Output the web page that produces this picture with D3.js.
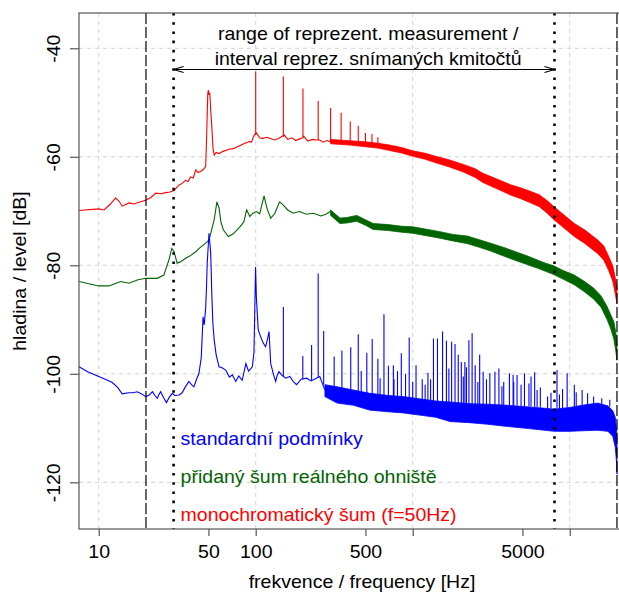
<!DOCTYPE html>
<html>
<head>
<meta charset="utf-8">
<script src="https://cdn.jsdelivr.net/npm/d3@7"></script>
<style>
  body { margin: 0; background: #fff; }
  svg { font-family: "Liberation Sans", Arial, sans-serif; }
</style>
</head>
<body>
<div id="wrapper"></div>
<script>
// spectra: [frequency Hz, level dB] or [frequency, low dB, high dB]
const redLine = [[7.49,-69.9],[10,-69.6],[10.8,-69.8],[11.8,-68.8],[12.8,-67.6],[13.5,-68.2],[14.1,-69.1],[15.6,-68.5],[16.8,-68.7],[18.5,-68.3],[19.9,-68.0],[21.5,-67.5],[23.1,-66.7],[25,-66.8],[26.7,-66.6],[28.5,-66.5],[30.2,-66.2],[32.5,-65.2],[34,-64.9],[35.8,-64.3],[37,-64.6],[38.5,-63.7],[40,-63.9],[41.5,-62.4],[43,-62.9],[44.6,-62.7],[46.5,-62.3],[48,-61.8],[48.7,-56.3],[49.5,-48.5],[49.9,-47.7],[50.5,-48.6],[51,-48.2],[51.7,-51.5],[52.5,-54.4],[53.5,-58.5],[54.4,-59.7],[56,-59.2],[58.4,-59.4],[62,-59.0],[67.6,-58.6],[72,-58.5],[78.3,-58.0],[84,-57.6],[90.8,-57.2],[94,-57.3],[97.7,-56.0],[101,-55.6],[106,-56.5],[110.2,-56.6],[118,-56.4],[123,-56.6],[132,-56.9],[140.6,-56.6],[146,-56.3],[152,-56.0],[160,-56.8],[170,-56.5],[180,-57],[190,-56.7],[197,-56.6],[202,-56.2],[215,-57.1],[230,-56.8],[245,-56.9],[255,-56.9],[270,-57.3],[285,-57],[297,-57.2],[310,-57.1]]
const redBand = [[300,-57.6,-56.8],[400,-57.85,-57.05],[500,-58.15,-57.25],[600,-58.4,-57.5],[700,-58.8,-57.8],[850,-59.3,-58.3],[1000,-59.9,-58.9],[1200,-60.45,-59.35],[1418,-61.15,-59.95],[1700,-61.85,-60.55],[2100,-62.8,-61.4],[2500,-63.8,-62.2],[2800,-64.75,-63.05],[3500,-66.0,-64.2],[4200,-67.05,-65.15],[4850,-67.7,-65.7],[5600,-68.45,-66.35],[6400,-69.2,-67.0],[7200,-70.4,-68.1],[7900,-71.55,-69.15],[9000,-72.9,-70.5],[10700,-74.7,-72.3],[12500,-76.0,-73.5],[15100,-77.85,-75.35],[16500,-79.05,-76.45],[17700,-80.95,-78.35],[18800,-82.9,-80.1],[19500,-85.25,-82.25],[20000,-87.0,-84.0]]
const redSpikes = [[100,-56.0,-44.3],[150,-56.3,-45.2],[200,-56.6,-47.4],[250,-56.9,-49.7],[300,-57.1,-51.0],[350,-57.4,-51.9],[400,-57.6,-53.5],[450,-57.7,-54.3],[500,-57.8,-55.6],[550,-57.9,-55.8],[600,-58.0,-56.4]]

const greenLine = [[7.49,-83.0],[10,-83.8],[11.6,-83.8],[13.8,-83.0],[15.6,-83.3],[17.6,-82.7],[19.9,-82.4],[23.6,-82.4],[26,-81.8],[28,-79],[29.2,-76.9],[30.2,-77.5],[31.6,-79.6],[33.5,-79.3],[35.8,-78.7],[38,-78.3],[41.5,-77.5],[44,-76.8],[48,-75.9],[50.5,-75.3],[54.4,-71.6],[56.6,-68.3],[58.5,-69.5],[60,-72],[62.3,-73.5],[67,-74.7],[72,-74.2],[79.3,-72.9],[84,-72.0],[87.6,-69.8],[91.8,-71.0],[96,-70.4],[101,-70.1],[106,-70.5],[113,-67.2],[118,-69.5],[124.6,-71.3],[132,-70.5],[142,-68.3],[150,-68.9],[160,-69.8],[173,-70.4],[190,-70.1],[210,-70.6],[233,-70.4],[260,-70.9],[280,-70.6],[297,-70.1],[310,-70.5]]
const greenBand = [[300,-70.8,-69.8],[344,-72.3,-71.3],[380,-72.2,-71.2],[440,-71.9,-70.8],[500,-72.6,-71.6],[560,-73.4,-72.3],[700,-73.6,-72.5],[850,-73.9,-72.8],[1000,-74.1,-72.9],[1250,-74.6,-73.4],[1490,-75.0,-73.8],[1800,-75.5,-74.3],[2220,-76.0,-74.6],[2600,-76.6,-75.2],[3100,-77.3,-75.9],[3800,-78.3,-76.7],[4620,-79.2,-77.6],[5400,-79.9,-78.3],[6200,-80.5,-79.0],[7000,-81.1,-79.6],[7900,-81.7,-80.1],[9000,-82.5,-80.9],[10700,-83.6,-81.8],[12300,-84.8,-82.9],[14200,-86.2,-84.2],[15800,-87.7,-85.6],[17300,-90.0,-87.6],[18300,-91.8,-89.2],[19100,-93.6,-90.4],[19700,-96.0,-92.5],[20000,-97.5,-94.5]]

const blueLine = [[7.49,-98.7],[8.5,-99.6],[10,-100.5],[11,-101.0],[12.2,-101.6],[13.2,-102.5],[14.1,-103.7],[15.5,-103.5],[16.5,-103.5],[17.6,-103.3],[18.8,-103.7],[19.9,-104.2],[21,-103.9],[22,-103.3],[22.8,-104.0],[23.6,-104.5],[24.2,-103.8],[24.8,-103.3],[25.8,-104.3],[27,-105.3],[28.2,-104.3],[29.4,-103.6],[30.5,-104.0],[32.5,-103.9],[34,-103.5],[35.5,-102.5],[37.5,-101.4],[39,-102.0],[40.4,-102.4],[42,-101.0],[43.5,-99.9],[45,-97],[46.2,-89.5],[47,-91],[48,-87.9],[48.6,-84],[49.1,-79.6],[50.4,-74.1],[51.7,-77.8],[52.5,-85],[53.3,-90.5],[54.4,-93.8],[56,-96.5],[58.4,-98.7],[61,-98.9],[64.4,-99.3],[68,-100.6],[71,-100.2],[74.7,-101.4],[78,-100.4],[82,-101.2],[86.6,-98.1],[90,-99.5],[95.2,-98.7],[97.5,-96],[99.8,-80.3],[101,-86],[103.8,-91.9],[107,-93],[111,-94.2],[115.6,-95],[118,-94],[121.6,-92.2],[124.6,-98.1],[130,-100.2],[134,-101.4],[137,-100.3],[140.6,-99.6],[146,-100.2],[155,-100.8],[165,-100.5],[174,-101.5],[182,-102],[195,-101],[211,-100.8],[225,-101.3],[240,-100.9],[256,-100.5],[266,-101.8],[276,-103]]
const blueBand = [[276,-104.2,-102],[330,-105.4,-102.4],[420,-105.8,-103],[535,-106.7,-103.6],[700,-107,-104],[870,-107.2,-104.2],[1100,-107.6,-104.6],[1400,-108,-105],[1730,-108.8,-105.2],[2300,-109,-105.5],[3000,-109.3,-105.6],[4000,-109.7,-105.8],[5500,-110.1,-106.1],[8000,-110.6,-106.5],[10000,-110.6,-106.2],[12000,-110.5,-105.8],[15000,-110.4,-105.4],[17500,-110.6,-105.9],[18800,-111.5,-106.8],[19500,-113.5,-108],[19900,-116.5,-110.5],[20000,-118.5,-112]]
const blueSpikes = [[150,-100.6,-87.7],[199.5,-101,-96.7],[227,-101.2,-94.7],[250,-100.7,-81.5],[271,-102,-92.1],[316,-103.5,-96.8],[354,-103.8,-95.7],[403,-104,-95.1],[450,-104.2,-92.7],[470,-104.3,-99.5],[510,-104.4,-96.1],[552,-104.5,-93.6],[600,-104.6,-97.2],[620,-104.6,-100.8],[656,-104.7,-89.0],[700,-104.8,-98.5],[753,-104.9,-98.4],[760,-104.9,-101],[800,-105,-99.5],[846,-105,-96.2],[900,-105,-100],[950,-105.1,-93.3],[1000,-105.1,-101.5],[1050,-105.2,-98.4],[1150,-105.3,-101],[1200,-105.3,-102],[1250,-105.3,-99.8],[1300,-105.3,-101],[1356,-105.4,-93.5],[1438,-105.4,-93.5],[1549,-105.5,-92.2],[1640,-105.5,-93.9],[1700,-105.5,-99],[1770,-105.5,-94.1],[1860,-105.5,-94.5],[1950,-105.5,-96.5],[2040,-105.6,-97.8],[2100,-105.6,-100.5],[2150,-105.6,-97.8],[2200,-105.6,-98.8],[2280,-105.6,-93.8],[2390,-105.6,-92.5],[2500,-105.6,-98.4],[2600,-105.7,-101.5],[2670,-105.7,-96.5],[2810,-105.7,-99.6],[2950,-105.7,-101],[3100,-105.8,-99.9],[3340,-105.8,-99.6],[3540,-105.8,-99],[3700,-105.8,-102.3],[3800,-105.8,-101.5],[4130,-105.9,-99.9],[4360,-105.9,-100.2],[4400,-105.9,-101.5],[4620,-105.9,-100.2],[4900,-106,-102],[5150,-106,-99.9],[5500,-106,-101.8],[5670,-106,-100.5],[5980,-106.1,-99.7],[6200,-106.1,-103],[6500,-106.2,-102.5],[7230,-106.3,-104.2],[7600,-106.3,-103.5],[8300,-106.4,-99.3],[8600,-106.4,-103.8],[9000,-106.3,-102.8],[9630,-106.2,-99.9],[10700,-106,-102],[11000,-106,-103.4],[12000,-105.8,-103],[13000,-105.7,-103.6],[14200,-105.6,-104.2],[16000,-105.8,-104.5],[18000,-106,-104.8]]

// axes
const xTicks = [10, 50, 100, 500, 1000, 5000, 10000]
const xTickLabels = ["10", "50", "100", "500", "", "5000", ""]
const xGrid = [10, 100, 1000, 10000]
const yTicks = [-40, -60, -80, -100, -120]

// annotations
const refLines = [[20, "longdash"], [30, "dotted"], [8000, "dotted"], [20000, "longdash"]]
const rangeArrow = [30, 8000, -43.9]
const rangeText = ["range of reprezent. measurement /", "interval reprez. snímaných kmitočtů"]
const rangeTextY = [-38.5, -43.1]
const legendLabels = ["standardní podmínky", "přidaný šum reálného ohniště", "monochromatický šum (f=50Hz)"]
const legendColors = ["#0000ff", "#006400", "#ff0000"]
const legendY = [-113.1, -120.2, -127.2]

const width = 619
const height = 593
const plot = { left: 79, right: 645, top: 13, bottom: 529 }
const fontSize = 18
const stretch = "scale(1.085,1)"

const svg = d3.select("#wrapper").append("svg")
    .attr("width", width)
    .attr("height", height)

const xScale = d3.scaleLog()
  .domain([7.49, 30170])
  .range([plot.left, plot.right])

const yScale = d3.scaleLinear()
  .domain([-128.6, -33.5])
  .range([plot.bottom, plot.top])

// put a text at (x, y), rotated if asked, slightly widened like the original
function addText(parent, x, y, str, rot, color) {
  return parent.append("text")
      .attr("transform", `translate(${x},${y})` + (rot ? ` rotate(${rot})` : "") + " " + stretch)
      .attr("fill", color || "#000")
      .style("font-size", fontSize + "px")
      .text(str)
}

// grid
const grid = svg.append("g")
    .attr("stroke", "#d3d3d3")
    .attr("stroke-dasharray", "4,4")
grid.selectAll(".gx").data(xGrid).join("line")
    .attr("x1", d => xScale(d)).attr("x2", d => xScale(d))
    .attr("y1", plot.top).attr("y2", plot.bottom)
grid.selectAll(".gy").data(yTicks).join("line")
    .attr("x1", plot.left).attr("x2", plot.right)
    .attr("y1", d => yScale(d)).attr("y2", d => yScale(d))

const line = d3.line()
  .x(d => xScale(d[0]))
  .y(d => yScale(d[1]))

const band = d3.area()
  .x(d => xScale(d[0]))
  .y0(d => yScale(d[1]))
  .y1(d => yScale(d[2]))

const series = [
  { line: redLine, band: redBand, spikes: redSpikes, color: "#ff0000" },
  { line: greenLine, band: greenBand, spikes: [], color: "#006400" },
  { line: blueLine, band: blueBand, spikes: blueSpikes, color: "#0000ff" },
]

series.forEach(s => {
  const g = svg.append("g")
  g.append("path")
      .attr("d", band(s.band))
      .attr("fill", s.color)
      .attr("stroke", s.color)
      .attr("stroke-width", 0.8)
  g.append("path")
      .attr("d", line(s.line))
      .attr("fill", "none")
      .attr("stroke", s.color)
      .attr("stroke-width", 1.1)
  g.selectAll("line").data(s.spikes).join("line")
      .attr("x1", d => xScale(d[0])).attr("x2", d => xScale(d[0]))
      .attr("y1", d => yScale(d[1])).attr("y2", d => yScale(d[2]))
      .attr("stroke", s.color)
      .attr("stroke-width", 1.1)
})

// reference frequency lines
svg.selectAll(".ref").data(refLines).join("line")
    .attr("x1", d => xScale(d[0])).attr("x2", d => xScale(d[0]))
    .attr("y1", plot.top).attr("y2", plot.bottom)
    .attr("stroke", "#000")
    .attr("stroke-width", d => d[1] == "dotted" ? 2.6 : 1.2)
    .attr("stroke-dasharray", d => d[1] == "dotted" ? "2.6,6.6" : "11,3")

// arrow with open heads at both ends
const ax1 = xScale(rangeArrow[0]), ax2 = xScale(rangeArrow[1]), ay = yScale(rangeArrow[2])
const arrow = svg.append("g").attr("stroke", "#000").attr("fill", "none").attr("stroke-width", 1.1)
arrow.append("line").attr("x1", ax1).attr("x2", ax2).attr("y1", ay).attr("y2", ay)
arrow.append("path").attr("d", `M${ax1 + 10},${ay - 3}L${ax1},${ay}L${ax1 + 10},${ay + 3}`)
arrow.append("path").attr("d", `M${ax2 - 10},${ay - 3}L${ax2},${ay}L${ax2 - 10},${ay + 3}`)

rangeText.forEach((t, i) => {
  addText(svg, xScale(520), yScale(rangeTextY[i]), t).attr("text-anchor", "middle")
})

// legend
legendLabels.forEach((t, i) => {
  addText(svg, xScale(30) + 7, yScale(legendY[i]), t, 0, legendColors[i])
})

// axes box and ticks
const axisColor = "#555"
svg.append("rect")
    .attr("x", plot.left).attr("y", plot.top)
    .attr("width", plot.right - plot.left).attr("height", plot.bottom - plot.top)
    .attr("fill", "none").attr("stroke", axisColor).attr("stroke-width", 1.2)

const xAxis = svg.append("g")
    .attr("transform", `translate(0,${plot.bottom})`)
    .call(d3.axisBottom(xScale).tickValues(xTicks).tickSize(7).tickPadding(9)
      .tickFormat((d, i) => xTickLabels[i]))
xAxis.select(".domain").remove()
xAxis.selectAll("line").attr("stroke", axisColor).attr("stroke-width", 1.2)
xAxis.selectAll("text")
    .attr("transform", stretch)
    .attr("fill", "#000")
    .style("font-size", fontSize + "px")

const yAxis = svg.append("g")
    .attr("transform", `translate(${plot.left},0)`)
    .call(d3.axisLeft(yScale).tickValues(yTicks).tickSize(9).tickFormat(d => d))
yAxis.select(".domain").remove()
yAxis.selectAll("line").attr("stroke", axisColor).attr("stroke-width", 1.2)
yAxis.selectAll("text")
    .attr("x", null).attr("dy", null)
    .attr("transform", "translate(-19,0) rotate(-90) " + stretch)
    .attr("text-anchor", "middle")
    .attr("fill", "#000")
    .style("font-size", fontSize + "px")

addText(svg, 362, 588, "frekvence / frequency [Hz]").attr("text-anchor", "middle")
addText(svg, 26, 271, "hladina / level [dB]", -90).attr("text-anchor", "middle")
</script>
</body>
</html>
